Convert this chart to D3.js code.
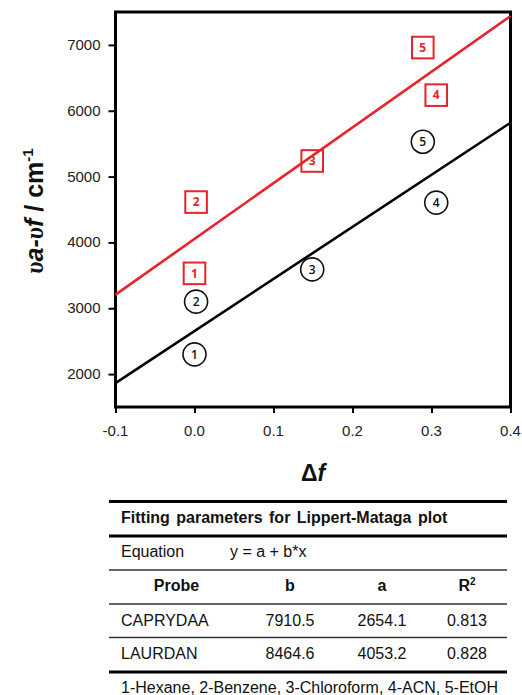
<!DOCTYPE html>
<html><head><meta charset="utf-8">
<script src="https://cdn.jsdelivr.net/npm/d3@7"></script>
<style>
html,body{margin:0;padding:0;background:#fff;}
svg{display:block;font-family:"Liberation Sans",Arial,sans-serif;}
</style></head>
<body>
<svg id="c" width="522" height="695"></svg>
<script>
// ---- data ----
const solventIds = ["1","2","3","4","5"];
const solventNames = ["Hexane","Benzene","Chloroform","ACN","EtOH"];
const deltaF = [0.0, 0.002, 0.149, 0.306, 0.289];
const caprydaaShift = [2300, 3100, 3590, 4605, 5530];
const laurdanDeltaF = [0.0, 0.002, 0.149, 0.306, 0.289];
const laurdanShift = [3530, 4613, 5237, 6237, 6960];
const xTicks = [-0.1, 0.0, 0.1, 0.2, 0.3, 0.4];
const xTickLabels = ["-0.1", "0.0", "0.1", "0.2", "0.3", "0.4"];
const yTicks = [2000, 3000, 4000, 5000, 6000, 7000];
const yTickLabels = ["2000", "3000", "4000", "5000", "6000", "7000"];
const probes = ["CAPRYDAA", "LAURDAN"];
const slopeB = [7910.5, 8464.6];
const interceptA = [2654.1, 4053.2];
const r2 = [0.813, 0.828];
const tableTitle = "Fitting parameters for Lippert-Mataga plot";
const equationText = "y = a + b*x";
const headers = ["Probe", "b", "a", "R"];

const RED = "#e8232b";
const svg = d3.select("#c");
const x = d3.scaleLinear().domain([-0.1, 0.4]).range([115.5, 510.5]);
const y = d3.scaleLinear().domain([1500, 7500]).range([407, 12]);

// axes (ticks from d3 axis, labels as explicit text)
const xAxis = svg.append("g").attr("transform", "translate(0,407)")
  .call(d3.axisBottom(x).tickValues(xTicks).tickFormat(() => "").tickSize(6).tickSizeOuter(0));
const yAxis = svg.append("g").attr("transform", "translate(115.5,0)")
  .call(d3.axisLeft(y).tickValues(yTicks).tickFormat(() => "").tickSize(7).tickSizeOuter(0));
[xAxis, yAxis].forEach(a => {
  a.select(".domain").remove();
  a.selectAll(".tick line").attr("stroke", "#000").attr("stroke-width", 2);
});
svg.append("g").selectAll("text").data(xTicks).join("text")
  .attr("x", d => x(d)).attr("y", 435.5).attr("text-anchor", "middle")
  .attr("font-size", 15).attr("fill", "#222").text((d, i) => xTickLabels[i]);
svg.append("g").selectAll("text").data(yTicks).join("text")
  .attr("x", 100.5).attr("y", d => y(d) + 5).attr("text-anchor", "end")
  .attr("font-size", 15).attr("fill", "#222").text((d, i) => yTickLabels[i]);

// frame
svg.append("rect").attr("x", x(-0.1)).attr("y", y(7500))
  .attr("width", x(0.4) - x(-0.1)).attr("height", y(1500) - y(7500))
  .attr("fill", "none").attr("stroke", "#000").attr("stroke-width", 3);

const plot = svg.append("g");
// markers - circles (CAPRYDAA)
const cg = plot.selectAll("g.c").data(solventIds).join("g")
  .attr("transform", (d, i) => `translate(${x(deltaF[i])},${y(caprydaaShift[i])})`);
cg.append("circle").attr("r", 11.5).attr("fill", "none").attr("stroke", "#111").attr("stroke-width", 1.6);
cg.append("text").text(d => d).attr("text-anchor", "middle").attr("dy", "0.36em")
  .attr("font-family", "Open Sans, sans-serif").attr("font-size", 12).attr("font-weight", 600).attr("fill", "#111");

// markers - squares (LAURDAN)
const sg = plot.selectAll("g.s").data(solventIds).join("g")
  .attr("transform", (d, i) => `translate(${x(laurdanDeltaF[i])},${y(laurdanShift[i])})`);
sg.append("rect").attr("x", -10.8).attr("y", -10.8).attr("width", 21.6).attr("height", 21.6)
  .attr("fill", "none").attr("stroke", RED).attr("stroke-width", 2);
sg.append("text").text(d => d).attr("text-anchor", "middle").attr("dy", "0.36em")
  .attr("font-family", "Open Sans, sans-serif").attr("font-size", 12).attr("font-weight", 700).attr("fill", RED);

// fit lines
const xd = x.domain();
[0, 1].forEach(k => {
  plot.append("line")
    .attr("x1", x(xd[0])).attr("y1", y(interceptA[k] + slopeB[k] * xd[0]))
    .attr("x2", x(xd[1])).attr("y2", y(interceptA[k] + slopeB[k] * xd[1]))
    .attr("stroke", k === 0 ? "#000" : RED).attr("stroke-width", 2.6);
});

// axis titles
const yl = svg.append("text").attr("transform", "translate(43,211) rotate(-90)")
  .attr("text-anchor", "middle").attr("font-size", 25).attr("font-weight", "bold").attr("fill", "#111");
yl.append("tspan").text("υ").attr("font-family", "Liberation Serif, serif").attr("font-style", "italic");
yl.append("tspan").text("a-").attr("font-style", "italic");
yl.append("tspan").text("υ").attr("font-family", "Liberation Serif, serif").attr("font-style", "italic");
yl.append("tspan").text("f").attr("font-style", "italic");
yl.append("tspan").text(" / cm");
yl.append("tspan").text("-1").attr("font-size", 15).attr("dy", -10);

const xl = svg.append("text").attr("x", 313).attr("y", 481).attr("text-anchor", "middle")
  .attr("font-size", 23).attr("font-weight", "bold").attr("fill", "#111");
xl.append("tspan").text("Δ");
xl.append("tspan").text("f").attr("font-style", "italic");

// table
const T = svg.append("g");
const tx0 = 109, tx1 = 507;
const hl = (yy, w, col) => T.append("line").attr("x1", tx0).attr("x2", tx1).attr("y1", yy).attr("y2", yy)
  .attr("stroke", col).attr("stroke-width", w);
hl(501.5, 3, "#000"); hl(536, 3, "#000"); hl(570, 1.5, "#333");
hl(604, 1.5, "#333"); hl(637.5, 1.5, "#333"); hl(672, 3, "#000");

T.append("text").attr("x", 121).attr("y", 523).attr("font-size", 16).attr("font-weight", "bold")
  .attr("fill", "#111").attr("word-spacing", 2).text(tableTitle);
T.append("text").attr("x", 121).attr("y", 557).attr("font-size", 16).attr("fill", "#111").text("Equation");
T.append("text").attr("x", 230).attr("y", 557).attr("font-size", 16).attr("fill", "#111").text(equationText);

const colX = [176.5, 290, 382, 467];
headers.forEach((h, i) => {
  const t = T.append("text").attr("x", colX[i]).attr("y", 591).attr("text-anchor", "middle")
    .attr("font-size", 16).attr("font-weight", "bold").attr("fill", "#111").text(h);
  if (h === "R") t.append("tspan").text("2").attr("font-size", 10).attr("dy", -6);
});
const rowY = [626, 659];
probes.forEach((p, r) => {
  T.append("text").attr("x", 121).attr("y", rowY[r]).attr("font-size", 16).attr("fill", "#111").text(p);
  [slopeB[r].toFixed(1), interceptA[r].toFixed(1), r2[r].toFixed(3)].forEach((v, c) => {
    T.append("text").attr("x", colX[c + 1]).attr("y", rowY[r]).attr("text-anchor", "middle")
      .attr("font-size", 16).attr("fill", "#111").text(v);
  });
});
T.append("text").attr("x", 121).attr("y", 693).attr("font-size", 16).attr("fill", "#111")
  .text(solventIds.map((id, i) => id + "-" + solventNames[i]).join(", "));
</script>
</body></html>
